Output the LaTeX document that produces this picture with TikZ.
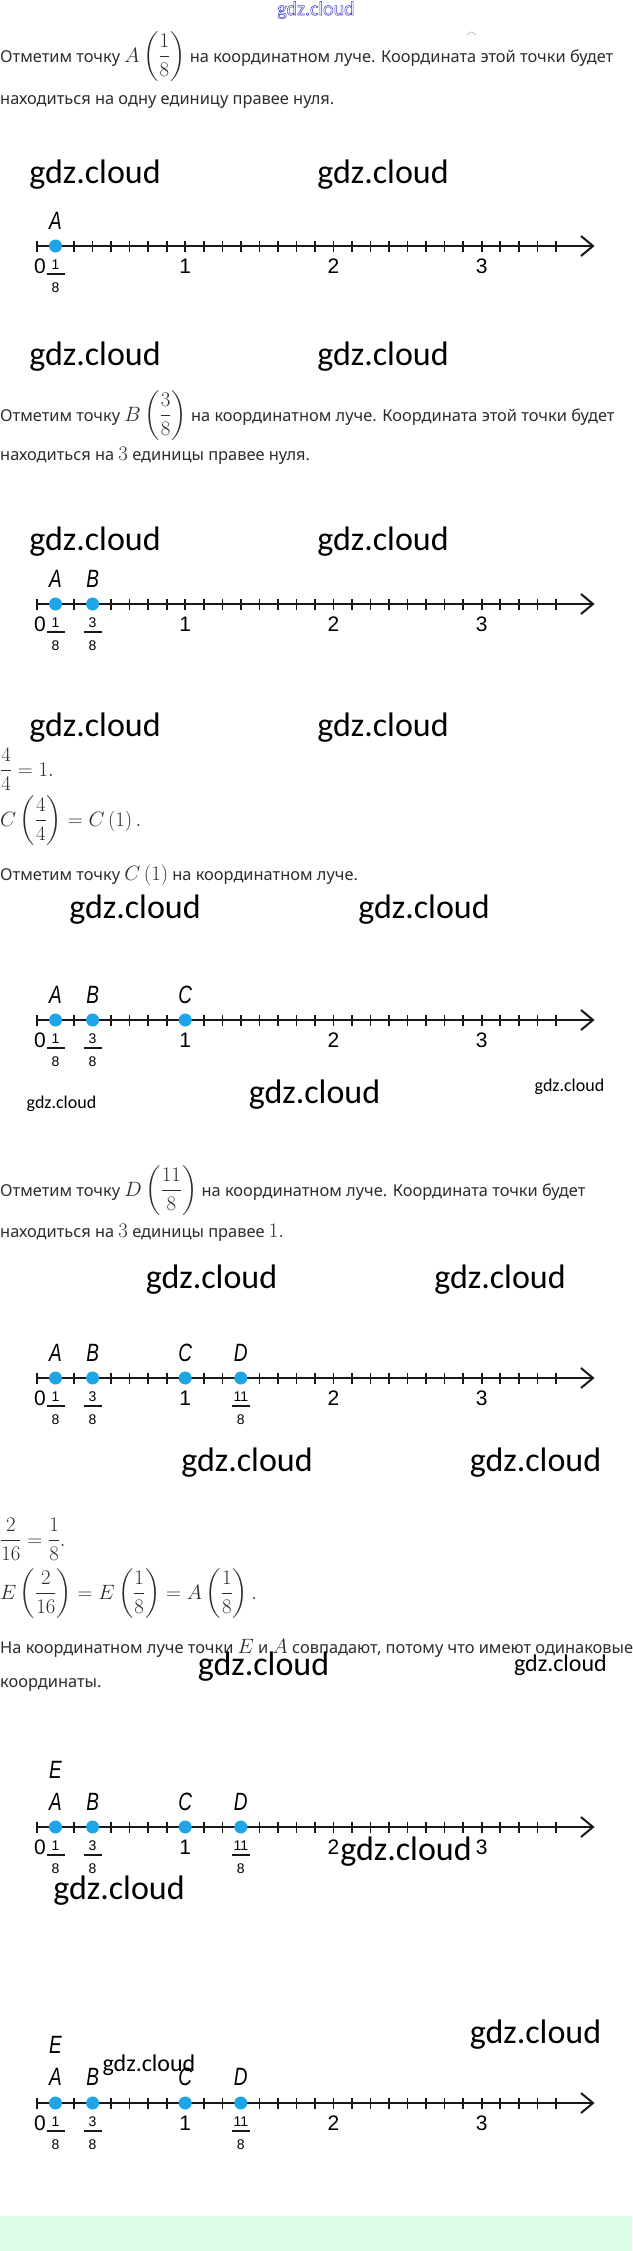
\documentclass[tikz,border=0pt]{standalone}
\usepackage{amsmath}
\usepackage{fontspec}
\setmainfont{Noto Sans}
\newfontfamily\wmfont{Carlito}
\newfontfamily\axfont{Liberation Sans}
\definecolor{dotblue}{RGB}{30,165,232}
\definecolor{wmblue}{RGB}{60,60,210}
\definecolor{bandgreen}{RGB}{221,252,232}
\definecolor{axblack}{RGB}{25,25,25}
\definecolor{txtgray}{RGB}{45,45,45}
\newcommand\mth[1]{{\fontsize{21}{21}\selectfont$#1$}}
\tikzset{
  body/.style={anchor=base west, inner sep=0pt, text=txtgray, font=\fontsize{16.4}{20}\selectfont},
  wmbig/.style={inner sep=0pt, font=\wmfont\fontsize{34}{34}\selectfont},
  wmmid/.style={inner sep=0pt, font=\wmfont\fontsize{24}{24}\selectfont},
  wmsmall/.style={inner sep=0pt, font=\wmfont\fontsize{18}{18}\selectfont},
  ptlabel/.style={inner sep=0pt, font=\axfont\itshape\fontsize{25}{25}\selectfont},
  numlabel/.style={inner sep=0pt, font=\axfont\fontsize{21}{21}\selectfont},
  fraclabel/.style={inner sep=0pt, font=\axfont\fontsize{14}{14}\selectfont},
  axisline/.style={line width=2pt, draw=axblack},
  tickline/.style={line width=1.6pt, draw=axblack},
  fracbar/.style={line width=1.1pt, draw=axblack},
  ptdot/.style={circle, fill=dotblue, inner sep=0pt, minimum size=13pt},
}
\newcommand\narrowit[1]{\scalebox{0.76}[1]{#1}}
\newcommand\numaxis[1]{%
  \coordinate (ax#1s) at (37,#1);
  \coordinate (ax#1e) at (593,#1);
  \draw[axisline] (ax#1s) -- (ax#1e);
  \draw[axisline, line join=miter] (581,#1-10) -- (ax#1e) -- (581,#1+10);
  \foreach \k in {0,...,28}{\draw[tickline] ({37+\k*18.53},#1-5.5) -- ({37+\k*18.53},#1+5.5);}
  \node[numlabel] (zero#1) at (40,#1+20) {0};
  \node[numlabel] (one#1) at (185.2,#1+20) {1};
  \node[numlabel] (two#1) at (333.4,#1+20) {2};
  \node[numlabel] (three#1) at (481.8,#1+20) {3};
}
\newcommand\fraclab[3]{%
  \node[fraclabel] (num#3at#2) at (#1,#2+18.5) {#3};
  \draw[fracbar] (#1-9,#2+28) -- (#1+9,#2+28);
  \node[fraclabel] (den#3at#2) at (#1,#2+41.5) {8};
}
\newcommand\pointat[4]{%
  \node[ptdot] (dot#3at#2) at (#1,#2) {};
  \node[ptlabel] (lab#3at#2) at (#1,#2-#4) {\narrowit{#3}};
}
\begin{document}
\begin{tikzpicture}[x=1pt,y=-1pt]
\useasboundingbox (0,0) rectangle (632,2251);
\fill[white] (0,0) rectangle (632,2251);
\fill[bandgreen] (0,2216) rectangle (632,2251);

% top watermark (outlined blue)
\node[inner sep=0pt, text=wmblue, font=\wmfont\fontsize{20}{20}\selectfont] (topwm) at (316,10)
  {\special{pdf:literal direct 1 Tr 0.5 w}gdz.cloud\special{pdf:literal direct 0 Tr}};
\draw[gray!50, line width=0.8pt] (467,35) .. controls (471,31) .. (476,35);

% paragraph 1
\node[body] (p1a) at (0,62) {Отметим точку \mth{A\left(\dfrac{1}{8}\right)} на координатном луче. Координата этой точки будет};
\node[body] (p1b) at (0,104) {находиться на одну единицу правее нуля.};

\node[wmbig] (w1a) at (95,175) {gdz.cloud};
\node[wmbig] (w1b) at (383,175) {gdz.cloud};

% axis 1
\numaxis{246}
\fraclab{55.5}{246}{1}
\pointat{55.5}{246}{A}{25}

\node[wmbig] (w2a) at (95,357) {gdz.cloud};
\node[wmbig] (w2b) at (383,357) {gdz.cloud};

% paragraph 2
\node[body] (p2a) at (0,421) {Отметим точку \mth{B\left(\dfrac{3}{8}\right)} на координатном луче. Координата этой точки будет};
\node[body] (p2b) at (0,460) {находиться на \mth{3} единицы правее нуля.};

\node[wmbig] (w3a) at (95,542) {gdz.cloud};
\node[wmbig] (w3b) at (383,542) {gdz.cloud};

% axis 2
\numaxis{604}
\fraclab{55.5}{604}{1}
\fraclab{92.6}{604}{3}
\pointat{55.5}{604}{A}{25}
\pointat{92.6}{604}{B}{25}

\node[wmbig] (w4a) at (95,728) {gdz.cloud};
\node[wmbig] (w4b) at (383,728) {gdz.cloud};

% paragraph 3
\node[body] (p3a) at (0,776) {\mth{\dfrac{4}{4}=1.}};
\node[body] (p3b) at (0,826) {\mth{C\left(\dfrac{4}{4}\right)=C\left(1\right).}};
\node[body] (p3c) at (0,880) {Отметим точку \mth{C\left(1\right)} на координатном луче.};

\node[wmbig] (w5a) at (135,910) {gdz.cloud};
\node[wmbig] (w5b) at (424,910) {gdz.cloud};

% axis 3
\numaxis{1020}
\fraclab{55.5}{1020}{1}
\fraclab{92.6}{1020}{3}
\pointat{55.5}{1020}{A}{25}
\pointat{92.6}{1020}{B}{25}
\pointat{185.2}{1020}{C}{25}

\node[wmsmall] (w6a) at (61.5,1103.5) {gdz.cloud};
\node[wmbig] (w6b) at (314.5,1095) {gdz.cloud};
\node[wmsmall] (w6c) at (569.5,1087) {gdz.cloud};

% paragraph 4
\node[body] (p4a) at (0,1196) {Отметим точку \mth{D\left(\dfrac{11}{8}\right)} на координатном луче. Координата точки будет};
\node[body] (p4b) at (0,1237) {находиться на \mth{3} единицы правее \mth{1.}};

\node[wmbig] (w7a) at (211.5,1280) {gdz.cloud};
\node[wmbig] (w7b) at (500,1280) {gdz.cloud};

% axis 4
\numaxis{1378}
\fraclab{55.5}{1378}{1}
\fraclab{92.6}{1378}{3}
\fraclab{240.8}{1378}{11}
\pointat{55.5}{1378}{A}{25}
\pointat{92.6}{1378}{B}{25}
\pointat{185.2}{1378}{C}{25}
\pointat{240.8}{1378}{D}{25}

\node[wmbig] (w8a) at (247,1463) {gdz.cloud};
\node[wmbig] (w8b) at (535.5,1463) {gdz.cloud};

% paragraph 5
\node[body] (p5a) at (0,1546) {\mth{\dfrac{2}{16}=\dfrac{1}{8}.}};
\node[body] (p5b) at (0,1599) {\mth{E\left(\dfrac{2}{16}\right)=E\left(\dfrac{1}{8}\right)=A\left(\dfrac{1}{8}\right).}};
\node[body] (p5c) at (0,1653) {На координатном луче точки \mth{E} и \mth{A} совпадают, потому что имеют одинаковые};
\node[body] (p5d) at (0,1687) {координаты.};

\node[wmbig] (w9a) at (263.5,1667) {gdz.cloud};
\node[wmmid] (w9b) at (560.5,1665) {gdz.cloud};

% axis 5
\numaxis{1827}
\fraclab{55.5}{1827}{1}
\fraclab{92.6}{1827}{3}
\fraclab{240.8}{1827}{11}
\pointat{55.5}{1827}{A}{25}
\pointat{92.6}{1827}{B}{25}
\pointat{185.2}{1827}{C}{25}
\pointat{240.8}{1827}{D}{25}
\node[ptlabel] (labE1) at (55.5,1770) {\narrowit{E}};

\node[wmbig] (w10a) at (406,1852) {gdz.cloud};
\node[wmbig] (w10b) at (119,1891) {gdz.cloud};

% axis 6
\node[wmbig] (w11a) at (535.5,2035) {gdz.cloud};
\numaxis{2103}
\fraclab{55.5}{2103}{1}
\fraclab{92.6}{2103}{3}
\fraclab{240.8}{2103}{11}
\pointat{55.5}{2103}{A}{26}
\pointat{92.6}{2103}{B}{26}
\pointat{185.2}{2103}{C}{26}
\pointat{240.8}{2103}{D}{26}
\node[ptlabel] (labE2) at (55.5,2045) {\narrowit{E}};
\node[wmmid] (w11b) at (149,2065) {gdz.cloud};
\end{tikzpicture}
\end{document}
